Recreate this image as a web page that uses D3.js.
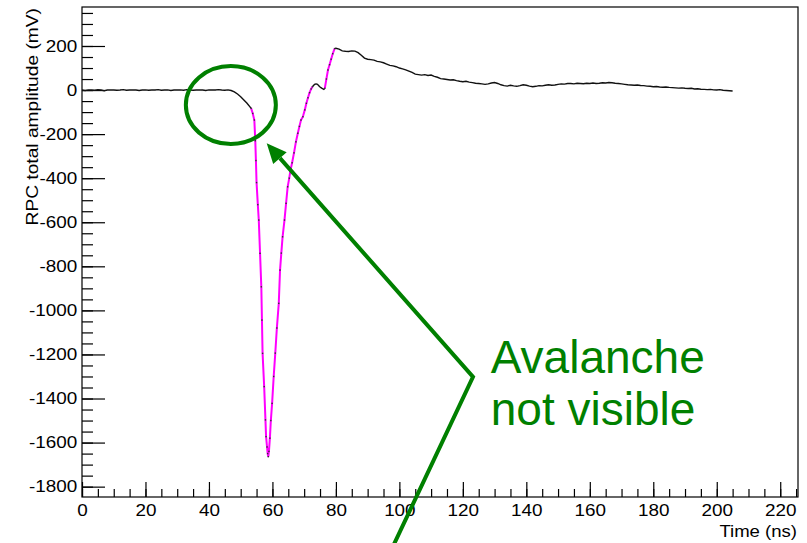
<!DOCTYPE html>
<html>
<head>
<meta charset="utf-8">
<script src="https://cdn.jsdelivr.net/npm/d3@7"></script>
<style>
  body { margin: 0; background: #fff; }
  svg { display: block; }
  text { font-family: "Liberation Sans", Arial, sans-serif; }
</style>
</head>
<body>
<svg width="807" height="543"></svg>
<script>
// waveform samples [time (ns), amplitude (mV)]
var baseline = [
	[0,0],[1,-2],[2,1],[3,0],[4,-1],[5,2],[6,0],[7,-3],[8,0],[9,1],[10,0],[11,-1],
	[12,0],[13,2],[14,-1],[15,0],[16,1],[17,0],[18,-2],[19,0],[20,1],[21,-1],[22,0],
	[23,0],[24,2],[25,-1],[26,0],[27,1],[28,-2],[29,0],[30,0],[31,1],[32,-1],[33,2],
	[34,0],[35,-1],[36,0],[37,1],[38,0],[39,-2],[40,1],[41,0],[42,0],[43,2],[44,0],
	[45,-1],[46,1],[47,-2],[48,-8],[49,-18],[50,-30],[51,-45],[52,-60],[53.3,-83]
];
var leading = [
	[53.3,-83],[53.8,-106],[54.3,-136],[54.6,-230],[54.8,-320],[55.0,-420],[55.4,-520],
	[55.7,-590],[56.1,-741],[56.5,-893],[56.7,-1044],[56.9,-1195],[57.4,-1346],
	[57.8,-1497],[58.0,-1573],[58.3,-1620],[58.5,-1650],[58.7,-1664],[58.9,-1640],
	[59.2,-1580],[59.5,-1500],[59.9,-1422],[60.4,-1300],[60.9,-1194],[61.4,-1080],
	[62.0,-968],[62.4,-817],[62.8,-740],[63.2,-666],[63.8,-590],[64.3,-514],[64.8,-439],
	[65.3,-400],[65.7,-363],[66.2,-330],[66.8,-285],[67.4,-235],[68.0,-196],[68.5,-165],
	[69.0,-136],[69.6,-121],[70.2,-90],[70.7,-60],[71.2,-35],[71.7,-12],[72.2,5],[72.6,15]
];
var bump = [
	[72.6,15],[73.0,22],[73.4,27],[73.8,28],[74.2,26],[74.6,20],[75.0,14],[75.4,10],
	[75.8,6],[76.2,3],[76.5,8]
];
var secondRise = [
	[76.5,8],[77.0,50],[77.5,91],[78.0,115],[78.5,140],[79.0,165],[79.6,188]
];
var tail = [
	[79.6,188],[80,190],[81,186],[82,178],[83,176],[84,175],[85,178],[86,177],[87,170],
	[88,158],[89,145],[90,140],[91,138],[92,136],[93,130],[94,128],[95,124],[96,118],
	[97,112],[98,110],[99,106],[100,100],[101,96],[102,92],[103,86],[104,80],[105,72],
	[106,70],[107,68],[108,70],[109,66],[110,68],[111,62],[112,58],[113,52],[114,50],
	[115,48],[116,46],[117,47],[118,43],[119,40],[120,38],[121,40],[122,36],[123,34],
	[124,31],[125,30],[126,28],[127,26],[128,28],[129,32],[130,34],[131,30],[132,24],
	[133,20],[134,18],[135,22],[136,19],[137,17],[138,20],[139,24],[140,22],[141,18],
	[142,15],[143,17],[144,20],[145,19],[146,22],[147,24],[148,22],[149,23],[150,26],
	[151,28],[152,27],[153,30],[154,30],[155,28],[156,31],[157,30],[158,29],[159,31],
	[160,30],[161,32],[162,30],[163,31],[164,33],[165,32],[166,34],[167,33],[168,31],
	[169,30],[170,28],[171,26],[172,24],[173,23],[174,22],[175,23],[176,21],[177,20],
	[178,18],[179,17],[180,15],[181,16],[182,14],[183,13],[184,14],[185,12],[186,11],
	[187,10],[188,9],[189,10],[190,8],[191,7],[192,8],[193,5],[194,6],[195,4],[196,3],
	[197,2],[198,3],[199,1],[200,0],[201,2],[202,-1],[203,-2],[204,-3],[205,-4]
];

var xMajor = [0,20,40,60,80,100,120,140,160,180,200,220];
var yMajor = [200,0,-200,-400,-600,-800,-1000,-1200,-1400,-1600,-1800];

(function() {
	var svg = d3.select("svg");
	var frameL = 82, frameR = 798, frameT = 7, frameB = 497;
	var stretch = 1.18; // the axis text in the original is a bit wider than plain Liberation Sans

	var x = d3.scaleLinear().domain([0, 225.6]).range([frameL, frameR]);
	var y = d3.scaleLinear().domain([-1847, 377]).range([frameB, frameT]);

	// frame
	svg.append("rect")
		.attr("x", frameL).attr("y", frameT)
		.attr("width", frameR - frameL).attr("height", frameB - frameT)
		.attr("fill", "none").attr("stroke", "#000").attr("stroke-width", 1.2);

	// minor ticks first, then major ones with labels
	svg.append("g")
		.attr("transform", "translate(" + frameL + ",0)")
		.call(d3.axisLeft(y).tickValues(d3.range(-1800, 377, 50)).tickSize(-11).tickFormat(""))
		.call(function(g) { g.select(".domain").remove(); });
	svg.append("g")
		.attr("transform", "translate(0," + frameB + ")")
		.call(d3.axisBottom(x).tickValues(d3.range(0, 226, 5)).tickSize(-8).tickFormat(""))
		.call(function(g) { g.select(".domain").remove(); });

	var yAxis = svg.append("g")
		.attr("transform", "translate(" + frameL + ",0)")
		.call(d3.axisLeft(y).tickValues(yMajor).tickSize(-23).tickPadding(4).tickFormat(d3.format("d")));
	yAxis.select(".domain").remove();

	var xAxis = svg.append("g")
		.attr("transform", "translate(0," + frameB + ")")
		.call(d3.axisBottom(x).tickValues(xMajor).tickSize(-15).tickPadding(8).tickFormat(d3.format("d")));
	xAxis.select(".domain").remove();

	svg.selectAll(".tick line").attr("stroke", "#000").attr("stroke-width", 1.2);
	svg.selectAll(".tick text")
		.attr("fill", "#000")
		.attr("transform", "scale(" + stretch + ",1)")
		.style("font-size", "16px")
		.style("font-family", "'Liberation Sans', Arial, sans-serif")
		.text(function() { return d3.select(this).text().replace("\u2212", "-"); });

	// axis titles
	svg.append("text")
		.attr("transform", "translate(38," + (frameT + 1) + ") rotate(-90) scale(1.2,1)")
		.attr("text-anchor", "end")
		.style("font-size", "16px")
		.text("RPC total amplitude (mV)");
	svg.append("text")
		.attr("transform", "translate(" + (frameR - 1) + ",537) scale(1.16,1)")
		.attr("text-anchor", "end")
		.style("font-size", "16px")
		.text("Time (ns)");

	// waveform
	var line = d3.line()
		.x(function(d) { return x(d[0]); })
		.y(function(d) { return y(d[1]); });

	var wave = svg.append("g").attr("class", "wave");
	[baseline, bump, tail].forEach(function(seg) {
		wave.append("path").datum(seg)
			.attr("d", line)
			.attr("fill", "none").attr("stroke", "#111").attr("stroke-width", 1.4);
	});
	[leading, secondRise].forEach(function(seg) {
		wave.append("path").datum(seg)
			.attr("d", line)
			.attr("fill", "none").attr("stroke", "#ff00ff").attr("stroke-width", 2);
		wave.selectAll(null).data(seg).enter().append("rect")
			.attr("x", function(d) { return x(d[0]) - 0.7; })
			.attr("y", function(d) { return y(d[1]) - 0.7; })
			.attr("width", 1.4).attr("height", 1.4)
			.attr("fill", "#333");
	});

	// annotation
	var green = "#008000";
	var note = svg.append("g").attr("class", "note");

	note.append("ellipse")
		.attr("cx", x(46.9)).attr("cy", y(-68))
		.attr("rx", 45).attr("ry", 39)
		.attr("fill", "none").attr("stroke", green).attr("stroke-width", 4);

	var tip = [x(58.2), y(-241)], knee = [x(123.2), y(-1302)], foot = [x(97), y(-2101)];
	var ang = Math.atan2(knee[1] - tip[1], knee[0] - tip[0]);
	var headLen = 20, headW = 9;
	var base = [tip[0] + headLen * Math.cos(ang), tip[1] + headLen * Math.sin(ang)];

	note.append("polyline")
		.attr("points", [base, knee, foot].map(function(p) { return p.join(","); }).join(" "))
		.attr("fill", "none").attr("stroke", green).attr("stroke-width", 4)
		.attr("stroke-linejoin", "miter");
	note.append("polygon")
		.attr("points", [
			tip,
			[base[0] - headW * Math.sin(ang), base[1] + headW * Math.cos(ang)],
			[base[0] + headW * Math.sin(ang), base[1] - headW * Math.cos(ang)]
		].map(function(p) { return p.join(","); }).join(" "))
		.attr("fill", green);

	note.append("text")
		.attr("x", x(128.8)).attr("y", y(-1284))
		.attr("fill", green)
		.style("font-size", "46px")
		.selectAll("tspan").data(["Avalanche", "not visible"]).enter().append("tspan")
		.attr("x", x(128.8))
		.attr("dy", function(d, i) { return i ? 52 : 0; })
		.text(function(d) { return d; });
})();
</script>
</body>
</html>
